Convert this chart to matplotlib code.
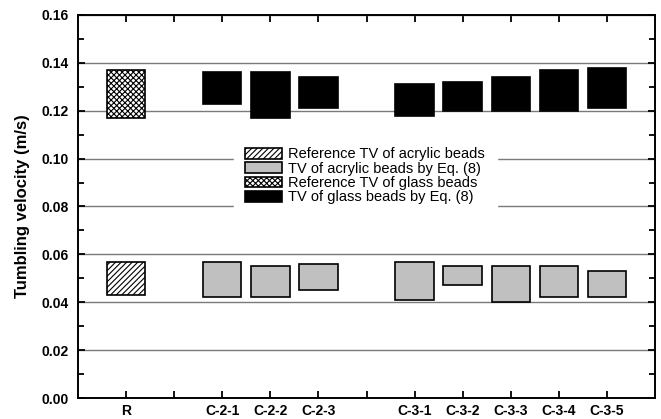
import matplotlib.pyplot as plt
from matplotlib.ticker import MultipleLocator

plt.rcParams['font.family'] = ['Liberation Sans', 'DejaVu Sans']
plt.rcParams['hatch.linewidth'] = 0.8

# sample names and x positions (gaps at 2 and 6)
samples = ['R', '', 'C-2-1', 'C-2-2', 'C-2-3', '', 'C-3-1', 'C-3-2', 'C-3-3', 'C-3-4', 'C-3-5']
pos_c = [3, 4, 5, 7, 8, 9, 10, 11]

# tumbling velocity ranges (m/s): low / high
ref_acr_lo, ref_acr_hi = 0.043, 0.057
ref_gl_lo, ref_gl_hi = 0.117, 0.137
acr_lo = [0.042, 0.042, 0.045, 0.041, 0.047, 0.040, 0.042, 0.042]
acr_hi = [0.057, 0.055, 0.056, 0.057, 0.055, 0.055, 0.055, 0.053]
gl_lo = [0.123, 0.117, 0.121, 0.118, 0.120, 0.120, 0.120, 0.121]
gl_hi = [0.136, 0.136, 0.134, 0.131, 0.132, 0.134, 0.137, 0.138]

fig = plt.figure(figsize=(6.61, 4.19), dpi=100)
ax = fig.add_axes([78/661, 1 - 398/419, 577/661, 383/419])

w = 0.8
ax.bar([1], [ref_acr_hi - ref_acr_lo], w, bottom=[ref_acr_lo], color='white',
       edgecolor='black', hatch='//////', lw=1.2, zorder=3, label='Reference TV of acrylic beads')
ax.bar(pos_c, [h - l for h, l in zip(acr_hi, acr_lo)], w, bottom=acr_lo, color='#c0c0c0',
       edgecolor='black', lw=1.2, zorder=3, label='TV of acrylic beads by Eq. (8)')
ax.bar([1], [ref_gl_hi - ref_gl_lo], w, bottom=[ref_gl_lo], color='white',
       edgecolor='black', hatch='xxxxxx', lw=1.2, zorder=3, label='Reference TV of glass beads')
ax.bar(pos_c, [h - l for h, l in zip(gl_hi, gl_lo)], w, bottom=gl_lo, color='black',
       edgecolor='black', lw=1.2, zorder=3, label='TV of glass beads by Eq. (8)')

ax.set_xlim(0, 12)
ax.set_ylim(0, 0.16)
ax.set_xticks(range(1, 12))
ax.set_xticklabels(samples, fontweight='bold', fontsize=10)
ax.yaxis.set_minor_locator(MultipleLocator(0.01))
ax.set_yticks([0.00, 0.02, 0.04, 0.06, 0.08, 0.10, 0.12, 0.14, 0.16])
ax.set_yticklabels(['%.2f' % v for v in ax.get_yticks()], fontweight='bold', fontsize=10)
ax.tick_params(which='both', direction='in', top=True, right=True, width=1.3)
ax.tick_params(which='major', length=5)
ax.tick_params(which='minor', length=4)
ax.tick_params(axis='x', pad=4)
ax.tick_params(axis='y', pad=7)
for s in ax.spines.values():
    s.set_linewidth(1.4)

ax.grid(axis='y', color='#7a7a7a', lw=1.0, zorder=0)
ax.set_axisbelow(True)
ax.set_ylabel('Tumbling velocity (m/s)', fontweight='bold', fontsize=12, labelpad=8)

leg = ax.legend(loc='center', bbox_to_anchor=(0.498, 0.58), frameon=True, fontsize=10.5,
                handlelength=2.5, handleheight=0.75, labelspacing=0.02, handletextpad=0.45,
                borderpad=0.8, borderaxespad=0, fancybox=False)
leg.get_frame().set_edgecolor('white')
leg.get_frame().set_facecolor('white')
leg.get_frame().set_alpha(1)

fig.savefig('out.png', dpi=100)
